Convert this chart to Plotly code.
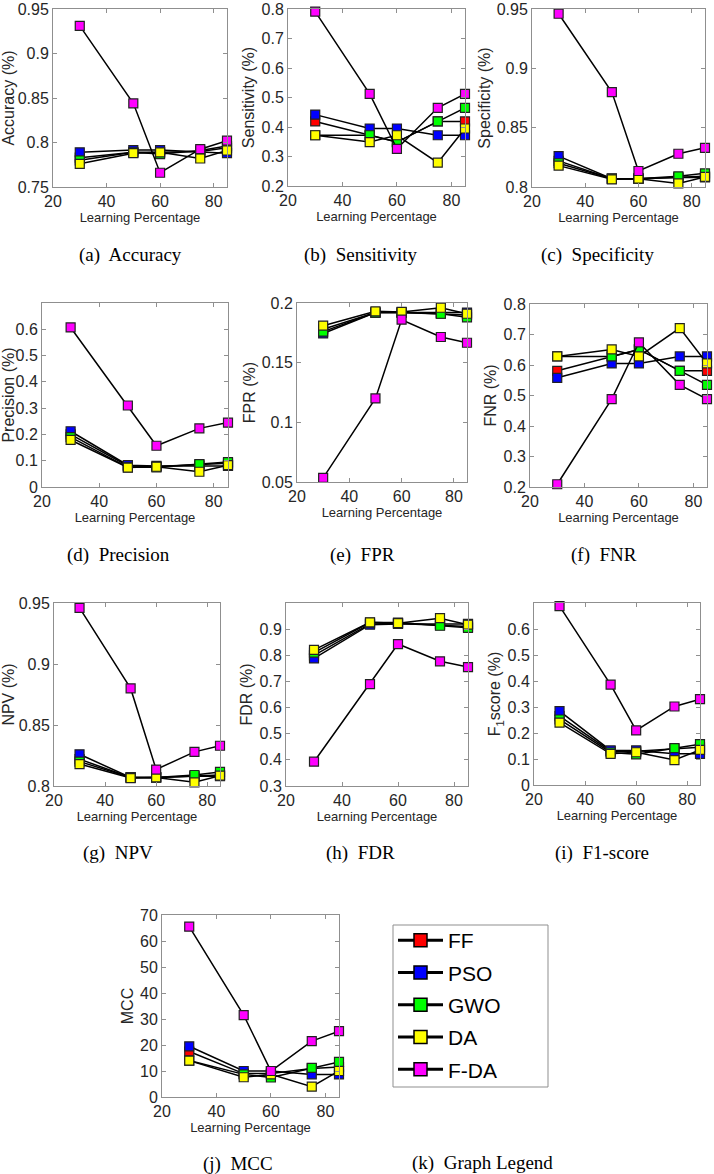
import plotly.graph_objects as go

W, H = 714, 1174

learning_pct = [30, 50, 60, 75, 85]
methods = ["FF", "PSO", "GWO", "DA", "F-DA"]
method_colors = ["#ff0000", "#0000ff", "#00ff00", "#ffff00", "#ff00ff"]

# rows: FF, PSO, GWO, DA, F-DA
accuracy = [
    [0.783, 0.789, 0.789, 0.790, 0.794],
    [0.789, 0.7915, 0.7915, 0.789, 0.788],
    [0.780, 0.789, 0.787, 0.791, 0.796],
    [0.776, 0.788, 0.789, 0.782, 0.791],
    [0.931, 0.844, 0.766, 0.7925, 0.802],
]
sensitivity = [
    [0.419, 0.372, 0.349, 0.419, 0.419],
    [0.442, 0.395, 0.395, 0.372, 0.372],
    [0.372, 0.372, 0.349, 0.419, 0.465],
    [0.372, 0.349, 0.372, 0.279, 0.395],
    [0.791, 0.512, 0.326, 0.465, 0.512],
]
specificity = [
    [0.822, 0.807, 0.807, 0.808, 0.809],
    [0.826, 0.807, 0.807, 0.808, 0.808],
    [0.820, 0.807, 0.807, 0.809, 0.8115],
    [0.818, 0.8065, 0.807, 0.803, 0.8085],
    [0.946, 0.880, 0.8135, 0.828, 0.833],
]
precision = [
    [0.200, 0.080, 0.078, 0.085, 0.090],
    [0.212, 0.083, 0.080, 0.080, 0.080],
    [0.190, 0.075, 0.075, 0.087, 0.095],
    [0.179, 0.074, 0.077, 0.058, 0.083],
    [0.607, 0.310, 0.157, 0.223, 0.245],
]
fpr = [
    [0.178, 0.192, 0.192, 0.191, 0.190],
    [0.1745, 0.192, 0.192, 0.192, 0.192],
    [0.176, 0.192, 0.192, 0.191, 0.188],
    [0.181, 0.193, 0.1925, 0.196, 0.191],
    [0.0535, 0.120, 0.186, 0.1715, 0.1667],
]
fnr = [
    [0.581, 0.628, 0.651, 0.581, 0.581],
    [0.558, 0.605, 0.605, 0.628, 0.628],
    [0.628, 0.628, 0.651, 0.581, 0.535],
    [0.628, 0.651, 0.628, 0.721, 0.605],
    [0.209, 0.488, 0.674, 0.535, 0.488],
]
npv = [
    [0.822, 0.807, 0.807, 0.808, 0.809],
    [0.826, 0.807, 0.807, 0.808, 0.808],
    [0.820, 0.807, 0.807, 0.809, 0.8115],
    [0.818, 0.8065, 0.807, 0.803, 0.8085],
    [0.946, 0.880, 0.8135, 0.828, 0.833],
]
fdr = [
    [0.800, 0.920, 0.922, 0.915, 0.910],
    [0.788, 0.917, 0.920, 0.920, 0.920],
    [0.810, 0.925, 0.925, 0.913, 0.905],
    [0.821, 0.926, 0.923, 0.942, 0.917],
    [0.393, 0.690, 0.843, 0.777, 0.755],
]
f1score = [
    [0.265, 0.130, 0.130, 0.140, 0.145],
    [0.284, 0.133, 0.133, 0.120, 0.120],
    [0.252, 0.125, 0.118, 0.142, 0.157],
    [0.240, 0.120, 0.126, 0.096, 0.135],
    [0.688, 0.386, 0.210, 0.302, 0.330],
]
mcc = [
    [17.5, 9.0, 9.0, 11.0, 11.5],
    [19.5, 10.0, 10.0, 8.7, 8.7],
    [14.0, 8.7, 7.5, 11.2, 13.5],
    [14.0, 7.6, 8.7, 4.0, 10.0],
    [65.5, 31.5, 10.0, 21.5, 25.3],
]

x_ticks = [20, 40, 60, 80]

# (data, y title, y range, y ticks, plot box px [x0, x1, y0, y1], caption, caption center px)
panels = [
    (accuracy, "Accuracy (%)", [0.75, 0.95], [0.75, 0.8, 0.85, 0.9, 0.95], [53, 227, 9, 187], "(a)  Accuracy", (130, 255)),
    (sensitivity, "Sensitivity (%)", [0.2, 0.8], [0.2, 0.3, 0.4, 0.5, 0.6, 0.7, 0.8], [288, 465, 9, 186], "(b)  Sensitivity", (360, 255)),
    (specificity, "Specificity (%)", [0.8, 0.95], [0.8, 0.85, 0.9, 0.95], [532, 705, 9, 187], "(c)  Specificity", (597, 255)),
    (precision, "Precision (%)", [0, 0.7], [0, 0.1, 0.2, 0.3, 0.4, 0.5, 0.6], [42, 228, 303, 487], "(d)  Precision", (118, 555)),
    (fpr, "FPR (%)", [0.05, 0.2], [0.05, 0.1, 0.15, 0.2], [297, 467, 303, 482], "(e)  FPR", (362, 555)),
    (fnr, "FNR (%)", [0.2, 0.8], [0.2, 0.3, 0.4, 0.5, 0.6, 0.7, 0.8], [530, 707, 304, 487], "(f)  FNR", (604, 555)),
    (npv, "NPV (%)", [0.8, 0.95], [0.8, 0.85, 0.9, 0.95], [54, 220, 603, 786], "(g)  NPV", (118, 853)),
    (fdr, "FDR (%)", [0.3, 1.0], [0.3, 0.4, 0.5, 0.6, 0.7, 0.8, 0.9], [286, 468, 603, 786], "(h)  FDR", (360, 853)),
    (f1score, "F<sub>1</sub>score (%)", [0, 0.7], [0, 0.1, 0.2, 0.3, 0.4, 0.5, 0.6], [534, 700, 603, 785], "(i)  F1-score", (602, 853)),
    (mcc, "MCC", [0, 70], [0, 10, 20, 30, 40, 50, 60, 70], [162, 339, 915, 1097], "(j)  MCC", (238, 1164)),
]

SANS = "Liberation Sans, Arial, sans-serif"
SERIF = "Liberation Serif, Times New Roman, serif"
AXCOL = "#8f8f8f"
TXTCOL = "#262626"

fig = go.Figure()
layout = dict(
    width=W, height=H,
    margin=dict(l=0, r=0, t=0, b=0, pad=0, autoexpand=False),
    paper_bgcolor="white", plot_bgcolor="white",
    showlegend=True,
    annotations=[], shapes=[],
)

for i, (data, ytitle, yr, yt, box, caption, cap) in enumerate(panels):
    n = "" if i == 0 else str(i + 1)
    xa, ya = "x" + n, "y" + n
    x0, x1, y0, y1 = box
    layout["xaxis" + n] = dict(
        domain=[x0 / W, x1 / W], anchor=ya, range=[20, 85], tickvals=x_ticks,
        ticks="inside", ticklen=4, tickcolor=AXCOL, showline=True, linecolor=AXCOL,
        linewidth=1, mirror="ticks", showgrid=False, zeroline=False, automargin=False,
        ticklabeloverflow="allow",
        tickfont=dict(family=SANS, size=16, color=TXTCOL),
        title=dict(text="Learning Percentage", font=dict(family=SANS, size=13, color=TXTCOL), standoff=0),
    )
    layout["yaxis" + n] = dict(
        domain=[1 - y1 / H, 1 - y0 / H], anchor=xa, range=yr, tickvals=yt,
        ticks="inside", ticklen=4, tickcolor=AXCOL, showline=True, linecolor=AXCOL,
        linewidth=1, mirror="ticks", showgrid=False, zeroline=False, automargin=False,
        ticklabeloverflow="allow",
        tickfont=dict(family=SANS, size=16, color=TXTCOL),
        title=dict(text=ytitle, font=dict(family=SANS, size=16, color=TXTCOL), standoff=2),
    )
    for m, (name, col) in enumerate(zip(methods, method_colors)):
        fig.add_trace(go.Scatter(
            x=learning_pct, y=data[m], xaxis=xa, yaxis=ya, mode="lines+markers",
            name=name, showlegend=False, cliponaxis=False,
            line=dict(color="black", width=1.5),
            marker=dict(symbol="square", size=9, color=col, line=dict(color="#222", width=1.2)),
        ))
    layout["annotations"].append(dict(
        text=caption, x=cap[0] / W, y=1 - cap[1] / H, xref="paper", yref="paper",
        showarrow=False, xanchor="center", yanchor="middle",
        font=dict(family=SERIF, size=19, color="black"),
    ))

# legend entries
for m, (name, col) in enumerate(zip(methods, method_colors)):
    fig.add_trace(go.Scatter(
        x=[None], y=[None], xaxis="x", yaxis="y", mode="lines+markers", name=name,
        legendgroup=name, showlegend=True,
        line=dict(color="black", width=3),
        marker=dict(symbol="square", size=13, color=col, line=dict(color="black", width=1.5)),
    ))

layout["legend"] = dict(
    x=393 / W, y=1 - 920 / H, xanchor="left", yanchor="top",
    bgcolor="rgba(0,0,0,0)", borderwidth=0, itemwidth=45,
    tracegroupgap=2, font=dict(family=SANS, size=21, color="black"),
)
layout["shapes"].append(dict(
    type="rect", xref="paper", yref="paper", x0=393 / W, x1=548 / W,
    y0=1 - 1087 / H, y1=1 - 925 / H, line=dict(color="#8f8f8f", width=1),
))
layout["annotations"].append(dict(
    text="(k)  Graph Legend", x=482 / W, y=1 - 1163 / H, xref="paper", yref="paper",
    showarrow=False, xanchor="center", yanchor="middle",
    font=dict(family=SERIF, size=19, color="black"),
))

fig.update_layout(**layout)
fig.write_html(
    "out.html",
    config={"displayModeBar": False},
    post_script="document.body.style.margin='0';document.body.style.overflow='hidden';",
)
